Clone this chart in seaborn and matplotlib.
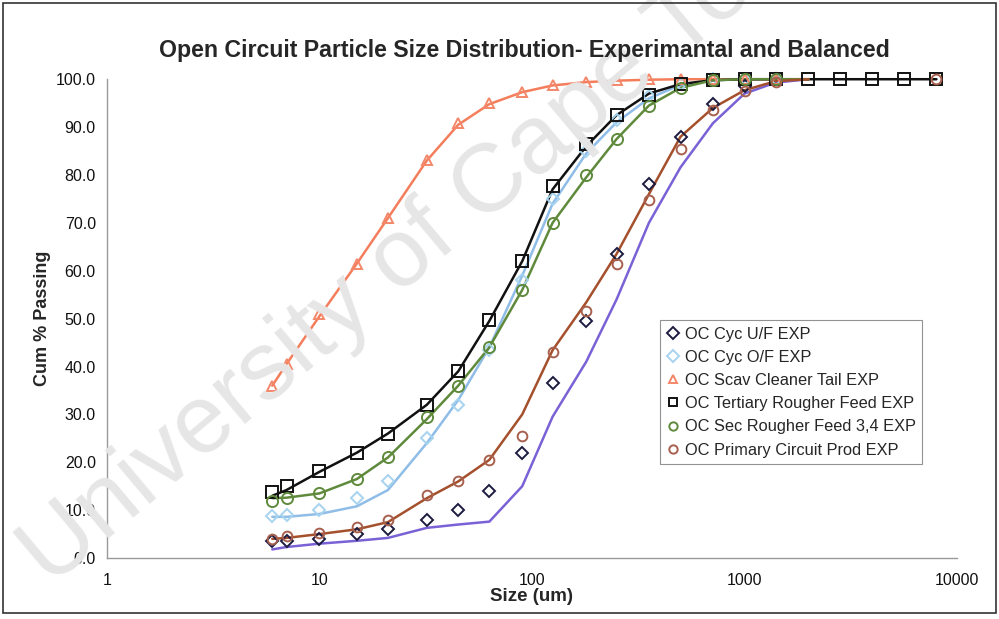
import numpy as np
import pandas as pd
import matplotlib
matplotlib.use("Agg")
import matplotlib.pyplot as plt
import seaborn as sns
from matplotlib.lines import Line2D
from matplotlib.patches import Rectangle

sizes = [6, 7, 10, 15, 21, 32, 45, 63, 90, 125, 180, 250, 355, 500, 710,
         1000, 1400, 2000, 2800, 4000, 5600, 8000]
nan = np.nan

# Experimental values (markers)
exp_uf = [3.5, 3.5, 4.0, 5.0, 6.0, 8.0, 10.0, 14.0, 22.0, 36.5, 49.5, 63.5, 78.2, 88.0, 94.8, 98.5, 100,
          nan, nan, nan, nan, nan]
exp_of = [8.8, 9.0, 10.0, 12.5, 16.0, 25.0, 32.0, 43.5, 58.0, 75.0, 85.0, 91.5, 96.5, 99.0, 100, 100, 100,
          nan, nan, nan, nan, nan]
exp_scav = [36.0, 40.5, 51.0, 61.5, 71.0, 83.2, 90.8, 95.0, 97.4, 98.8, 99.4, 99.8, 100, 100, 100, 100, 100,
            nan, nan, nan, nan, nan]
exp_tert = [13.8, 15.0, 18.2, 22.0, 26.0, 32.0, 39.0, 49.8, 62.0, 77.8, 86.5, 92.5, 96.8, 99.0, 99.8, 100,
            100, 100, 100, 100, 100, 100]
exp_sec = [12.0, 12.5, 13.5, 16.5, 21.0, 29.5, 36.0, 44.0, 56.0, 70.0, 80.0, 87.5, 94.5, 98.2, 99.8, 100, 100,
           nan, nan, nan, nan, nan]
exp_prim = [4.0, 4.5, 5.2, 6.5, 8.0, 13.2, 16.0, 20.5, 25.5, 43.0, 51.5, 61.5, 74.8, 85.5, 93.5, 97.5, 99.5,
            nan, nan, nan, nan, 100]

# Balanced values (lines)
bal_uf = [1.8, 2.3, 3.0, 3.6, 4.2, 6.3, 7.0, 7.6, 15.0, 29.5, 41.0, 54.0, 70.0, 81.6, 90.8, 97.0, 99.3, 100,
          nan, nan, nan, nan]
bal_of = [8.6, 8.6, 9.2, 10.8, 14.2, 24.0, 33.0, 44.0, 59.0, 74.0, 84.5, 91.0, 96.0, 98.8, 99.8, 100, 100, 100,
          nan, nan, nan, nan]
bal_scav = [36.0, 40.5, 50.5, 61.5, 71.0, 83.0, 90.5, 94.8, 97.3, 98.7, 99.4, 99.7, 99.9, 100, 100, 100, 100, 100,
            nan, nan, nan, nan]
bal_tert = [13.0, 14.2, 18.0, 22.0, 26.0, 32.0, 39.0, 49.5, 62.0, 77.0, 86.0, 92.5, 97.0, 99.0, 99.8, 100,
            100, 100, 100, 100, 100, 100]
bal_sec = [12.5, 12.6, 13.5, 16.5, 21.0, 29.0, 36.0, 44.0, 56.0, 70.0, 79.5, 87.5, 94.5, 98.2, 99.8, 100, 100, 100,
           nan, nan, nan, nan]
bal_prim = [4.0, 4.2, 5.0, 6.0, 7.5, 12.5, 16.0, 20.5, 30.0, 43.4, 53.4, 63.5, 76.0, 88.0, 94.0, 97.7, 99.6, 100,
            nan, nan, nan, nan]

labels = ["OC Cyc U/F EXP", "OC Cyc O/F EXP", "OC Scav Cleaner Tail EXP",
          "OC Tertiary Rougher Feed EXP", "OC Sec Rougher Feed 3,4 EXP",
          "OC Primary Circuit Prod EXP"]
x_ticks = [1, 10, 100, 1000, 10000]
x_ticklabels = ["1", "10", "100", "1000", "10000"]
y_ticks = [0, 10, 20, 30, 40, 50, 60, 70, 80, 90, 100]

exp_series = [exp_uf, exp_of, exp_scav, exp_tert, exp_sec, exp_prim]
bal_series = [bal_uf, bal_of, bal_scav, bal_tert, bal_sec, bal_prim]
markers = ["D", "D", "^", "s", "o", "o"]
msizes = [6, 6, 7, 8, 8, 7]
mcolors = ["#1c1c40", "#a6d4ee", "#f4876a", "#111111", "#5f8a3c", "#a8604e"]
lcolors = ["#7a62d6", "#8fbde8", "#f47e5c", "#111111", "#5f8a3c", "#a5502c"]

sns.set_style("white")
plt.rcParams['font.family'] = ['Liberation Sans', 'DejaVu Sans']

fig = plt.figure(figsize=(9.99, 6.19), dpi=100)
ax = fig.add_axes([0.107, 0.0985, 0.851, 0.7735])

# watermark
fig.text(0.05, 0.05, "University of Cape Town", fontsize=70, color="#e6e6e6",
         rotation=40, rotation_mode="anchor", ha="left", va="baseline", zorder=0)
ax.patch.set_alpha(0)

for vals, col in zip(bal_series, lcolors):
    df = pd.DataFrame({"size": sizes, "val": vals}).dropna()
    sns.lineplot(data=df, x="size", y="val", ax=ax, color=col, linewidth=1.8,
                 sort=False, clip_on=False, zorder=2)

for vals, m, ms, col in zip(exp_series, markers, msizes, mcolors):
    df = pd.DataFrame({"size": sizes, "val": vals}).dropna()
    sns.lineplot(data=df, x="size", y="val", ax=ax, linestyle="", marker=m,
                 markersize=ms, markerfacecolor="none", markeredgecolor=col,
                 markeredgewidth=1.4, clip_on=False, zorder=3)

ax.set_xscale("log")
ax.set_xlim(1, 10000)
ax.set_ylim(0, 100)
ax.set_xticks(x_ticks)
ax.set_xticklabels(x_ticklabels)
ax.xaxis.set_minor_locator(matplotlib.ticker.NullLocator())
ax.set_yticks(y_ticks)
ax.set_yticklabels([f"{v:.1f}" for v in y_ticks])
ax.tick_params(axis="x", direction="inout", length=6, width=0.8, colors="#888888",
               labelcolor="#111111", labelsize=11.5, pad=8)
ax.tick_params(axis="y", direction="out", length=4, width=0.8, colors="#888888",
               labelcolor="#111111", labelsize=11.5, pad=4)
for s in ["top", "right"]:
    ax.spines[s].set_visible(False)
for s in ["left", "bottom"]:
    ax.spines[s].set_color("#999999")
    ax.spines[s].set_linewidth(1.0)

ax.set_xlabel("Size (um)", fontsize=13.5, fontweight="bold", labelpad=0)
ax.set_ylabel("Cum % Passing", fontsize=13, fontweight="bold", labelpad=3.5)
fig.text(0.525, 0.918, "Open Circuit Particle Size Distribution- Experimantal and Balanced",
         fontsize=16.7, fontweight="bold", ha="center", va="center")

handles = [Line2D([], [], linestyle="", marker=m, markersize=6, markerfacecolor="none",
                  markeredgecolor=c, markeredgewidth=1.4)
           for m, c in zip(markers, mcolors)]
leg = ax.legend(handles, labels, loc="upper left", bbox_to_anchor=(0.661, 0.483),
                bbox_transform=fig.transFigure, frameon=True, fancybox=False,
                fontsize=11.8, handlelength=0.8, handletextpad=0.3, borderpad=0.4,
                labelspacing=0.5, borderaxespad=0)
leg.get_frame().set_edgecolor("#777777")
leg.get_frame().set_linewidth(0.8)

fig.patches.append(Rectangle((0.003, 0.01), 0.994, 0.985, transform=fig.transFigure,
                             fill=False, edgecolor="#333333", linewidth=1.2))

fig.savefig("out.png", dpi=100)
